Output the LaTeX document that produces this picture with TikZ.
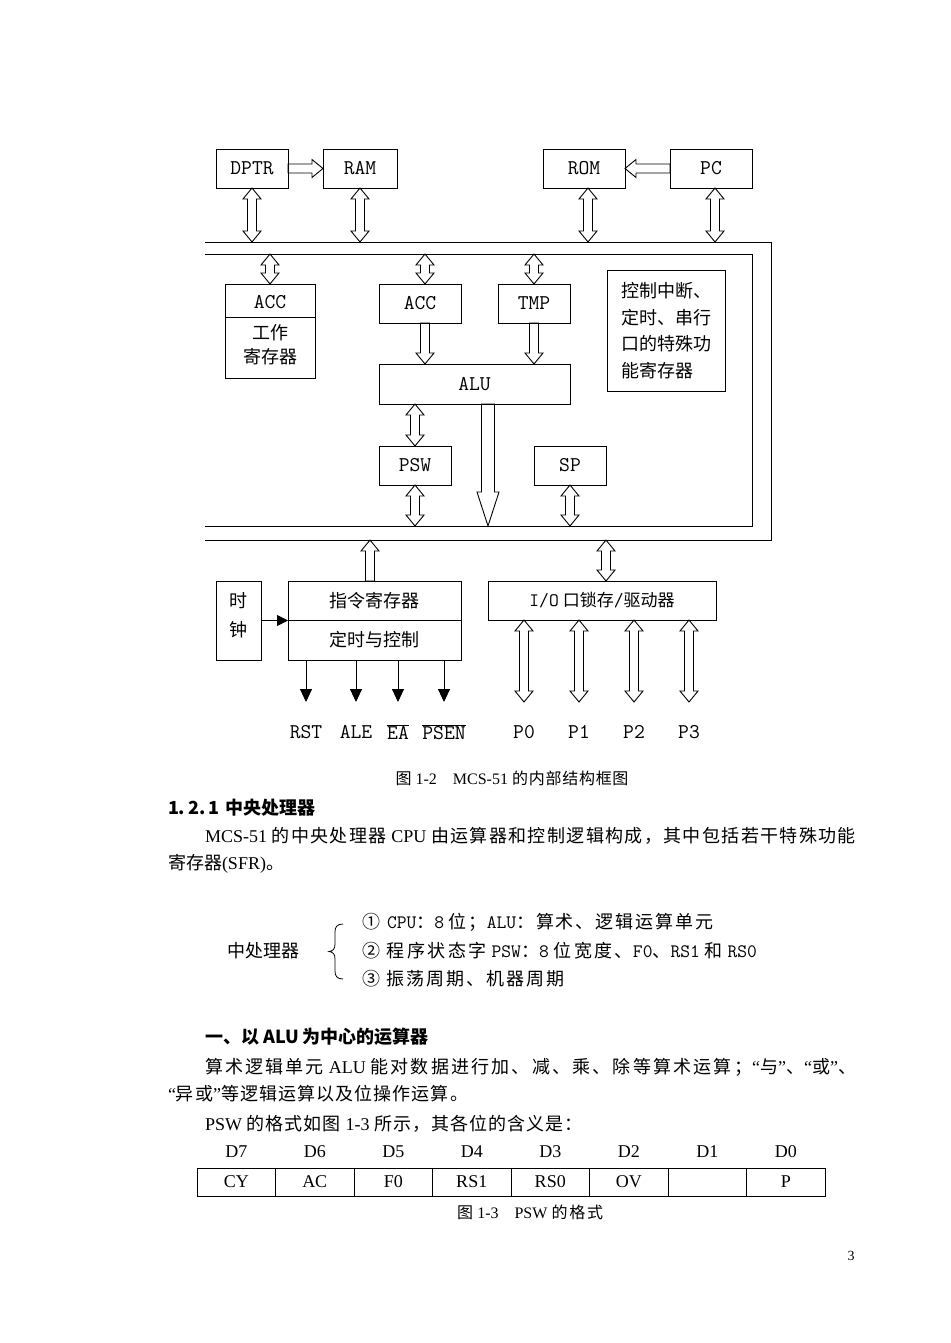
\documentclass[tikz,border=0pt]{standalone}
\usepackage{fontspec}
\setmainfont{Liberation Serif}
\newfontfamily\cjk{Noto Sans CJK SC}
\newcommand\mono{\ttfamily}
\usetikzlibrary{calc,arrows.meta}
\makeatletter
\XeTeXinterchartokenstate=1
\count@="4E00
\loop\ifnum\count@<"A000 \XeTeXcharclass\count@=11 \advance\count@ by 1 \repeat
\count@="3000
\loop\ifnum\count@<"3040 \XeTeXcharclass\count@=11 \advance\count@ by 1 \repeat
\count@="FF00
\loop\ifnum\count@<"FFF0 \XeTeXcharclass\count@=11 \advance\count@ by 1 \repeat
\count@="2460
\loop\ifnum\count@<"2474 \XeTeXcharclass\count@=11 \advance\count@ by 1 \repeat
\makeatother
\XeTeXinterchartoks 11 11 = {\hskip 0pt plus 2pt minus 0.6pt\relax}
\newcommand\zh[1]{{\cjk #1}}
\newcommand\mn[1]{{\mono #1}}
\newcommand\fs[1]{\fontsize{#1}{#1}\selectfont}
\def\arsw{4.5pt}\def\arhw{9pt}\def\arhl{11pt}
\tikzset{
  hsingle/.style={to path={
    ($(\tikztostart)!\arsw!90:(\tikztotarget)$)
    -- ($(\tikztotarget)!\arhl!(\tikztostart)!\arsw!90:(\tikztotarget)$)
    -- ($(\tikztotarget)!\arhl!(\tikztostart)!\arhw!90:(\tikztotarget)$)
    -- (\tikztotarget)
    -- ($(\tikztotarget)!\arhl!(\tikztostart)!\arhw!-90:(\tikztotarget)$)
    -- ($(\tikztotarget)!\arhl!(\tikztostart)!\arsw!-90:(\tikztotarget)$)
    -- ($(\tikztostart)!\arsw!-90:(\tikztotarget)$)
    -- cycle}},
  hbi/.style={to path={
    (\tikztotarget)
    -- ($(\tikztotarget)!\arhl!(\tikztostart)!\arhw!90:(\tikztotarget)$)
    -- ($(\tikztotarget)!\arhl!(\tikztostart)!\arsw!90:(\tikztotarget)$)
    -- ($(\tikztostart)!\arhl!(\tikztotarget)!\arsw!90:(\tikztotarget)$)
    -- ($(\tikztostart)!\arhl!(\tikztotarget)!\arhw!90:(\tikztotarget)$)
    -- (\tikztostart)
    -- ($(\tikztostart)!\arhl!(\tikztotarget)!\arhw!-90:(\tikztotarget)$)
    -- ($(\tikztostart)!\arhl!(\tikztotarget)!\arsw!-90:(\tikztotarget)$)
    -- ($(\tikztotarget)!\arhl!(\tikztostart)!\arsw!-90:(\tikztotarget)$)
    -- ($(\tikztotarget)!\arhl!(\tikztostart)!\arhw!-90:(\tikztotarget)$)
    -- cycle}},
  bigarr/.code={\def\arsw{6.5pt}\def\arhw{11pt}\def\arhl{34pt}},
}
\begin{document}
\begin{tikzpicture}[x=1pt,y=-1pt,
  every node/.style={inner sep=0pt,outer sep=0pt},
  lw/.style={line width=0.9pt},
  blk/.style={draw,line width=0.9pt,font=\mono\fs{21}},
  zhl/.style={font=\cjk\fs{18}},
  lat/.style={font=\mono\fs{21}},
  tl/.style={anchor=west,font={\fs{18}\spaceskip=4.5pt plus 0.3pt minus 0.5pt\relax}},
  capt/.style={font={\fs{16}\spaceskip=4pt plus 0.3pt minus 0.5pt\relax}},
  sig/.style={line width=0.9pt,-{Triangle[width=12pt,length=13pt]}},
  cell/.style={draw,line width=0.9pt,minimum width=78.5pt,minimum height=28pt,font=\fs{18}},
]
\useasboundingbox[fill=white] (0,0) rectangle (950,1343);

% ---------- top boxes
\node[blk,minimum width=72pt,minimum height=39pt] (dptr) at (252,168.5) {DPTR};
\node[blk,minimum width=74pt,minimum height=39pt] (ram) at (360,168.5) {RAM};
\node[blk,minimum width=82pt,minimum height=39pt] (rom) at (584,168.5) {ROM};
\node[blk,minimum width=82pt,minimum height=39pt] (pc) at (711,168.5) {PC};

% ---------- bus frames
\coordinate (otl) at (205,242); \coordinate (otr) at (771,242);
\coordinate (obr) at (771,540); \coordinate (obl) at (205,540);
\coordinate (itl) at (205,254); \coordinate (itr) at (752,254);
\coordinate (ibr) at (752,526); \coordinate (ibl) at (205,526);
\draw[lw] (otl) -- (otr) -- (obr) -- (obl);
\draw[lw] (itl) -- (itr) -- (ibr) -- (ibl);

% ---------- inner blocks
\node[blk,minimum width=90pt,minimum height=94pt] (accw) at (270,331) {};
\draw[lw] ([yshift=-33pt]accw.north west) -- ([yshift=-33pt]accw.north east);
\node[lat] (accwt) at (270,302) {ACC};
\node[zhl] (accw2) at (270,333) {工作};
\node[zhl] (accw3) at (270,357) {寄存器};
\node[blk,minimum width=82pt,minimum height=39pt] (acc) at (420,303.5) {ACC};
\node[blk,minimum width=72pt,minimum height=39pt] (tmp) at (534,303.5) {TMP};
\node[blk,minimum width=191pt,minimum height=40pt] (alu) at (474.5,384) {ALU};
\node[draw,lw,minimum width=118pt,minimum height=121pt,align=left,font=\cjk\fontsize{18}{26.5}\selectfont] (sfr) at (666,330.5) {控制中断、\\定时、串行\\口的特殊功\\能寄存器};
\node[blk,minimum width=72pt,minimum height=39pt] (psw) at (415,465.5) {PSW};
\node[blk,minimum width=72pt,minimum height=39pt] (sp) at (570,465.5) {SP};

% ---------- lower blocks
\node[blk,minimum width=45pt,minimum height=79pt] (clk) at (238.5,620.5) {};
\node[zhl] (clk1) at (238.5,601) {时};
\node[zhl] (clk2) at (238.5,630) {钟};
\node[blk,minimum width=173pt,minimum height=79pt] (ctrl) at (374.5,620.5) {};
\draw[lw] (ctrl.west) -- (ctrl.east);
\node[zhl] (ir) at (374.5,600.5) {指令寄存器};
\node[zhl] (tc) at (374.5,640) {定时与控制};
\node[blk,minimum width=228pt,minimum height=39pt,font=\fs{17}] (io) at (602,600.5) {\mn{\fs{19}I/O}\hspace{4pt}\zh{口锁存}\mn{\fs{19}/}\zh{驱动器}};

\node[lat] (rst) at (306,732) {RST};
\node[lat] (ale) at (356,732) {ALE};
\node[lat] (ea) at (398,732) {$\overline{\hbox{EA}}$};
\node[lat] (psen) at (444,732) {$\overline{\hbox{PSEN}}$};
\node[lat] (p0) at (524,732) {P0};
\node[lat] (p1) at (579,732) {P1};
\node[lat] (p2) at (634,732) {P2};
\node[lat] (p3) at (689,732) {P3};
\coordinate (sigend) at (0,702);

% ---------- connectors
\draw[lw] (dptr.east) to[hsingle] (ram.west);
\draw[lw] (pc.west) to[hsingle] (rom.east);
\coordinate (dptrB) at (dptr.south |- otl);
\draw[lw] (dptr.south) to[hbi] (dptrB);
\coordinate (ramB) at (ram.south |- otl);
\draw[lw] (ram.south) to[hbi] (ramB);
\coordinate (romS) at ([xshift=4pt]rom.south);
\coordinate (romB) at (romS |- otl);
\draw[lw] (romS) to[hbi] (romB);
\coordinate (pcS) at ([xshift=4pt]pc.south);
\coordinate (pcB) at (pcS |- otl);
\draw[lw] (pcS) to[hbi] (pcB);

\coordinate (accwT) at (accw.north |- itl);
\draw[lw] (accwT) to[hbi] (accw.north);
\coordinate (accN) at ([xshift=5pt]acc.north);
\coordinate (accT) at (accN |- itl);
\draw[lw] (accT) to[hbi] (accN);
\coordinate (accS) at ([xshift=5pt]acc.south);
\coordinate (aluA) at (accS |- alu.north);
\draw[lw] (accS) to[hsingle] (aluA);
\coordinate (tmpT) at (tmp.north |- itl);
\draw[lw] (tmpT) to[hbi] (tmp.north);
\coordinate (aluB) at (tmp.south |- alu.north);
\draw[lw] (tmp.south) to[hsingle] (aluB);
\coordinate (aluP) at (psw.north |- alu.south);
\draw[lw] (aluP) to[hbi] (psw.north);
\coordinate (pswB) at (psw.south |- ibl);
\draw[lw] (psw.south) to[hbi] (pswB);
\coordinate (aluC) at ([xshift=13.5pt]alu.south);
\coordinate (bigE) at (aluC |- ibl);
\draw[lw,bigarr] (aluC) to[hsingle] (bigE);
\coordinate (spB) at (sp.south |- ibl);
\draw[lw] (sp.south) to[hbi] (spB);

\coordinate (ctrlN) at ([xshift=-4.5pt]ctrl.north);
\coordinate (ctrlB) at (ctrlN |- obl);
\draw[lw] (ctrlN) to[hsingle] (ctrlB);
\coordinate (ioN) at ([xshift=4pt]io.north);
\coordinate (ioB) at (ioN |- obl);
\draw[lw] (ioB) to[hbi] (ioN);
\draw[lw,-{Triangle[width=11pt,length=11pt]}] (clk.east) -- (clk.east -| ctrl.west);

\foreach \p in {p0,p1,p2,p3} {
  \coordinate (\p-s) at (\p |- io.south);
  \coordinate (\p-e) at (\p |- sigend);
  \draw[lw] (\p-s) to[hbi] (\p-e);
}
\foreach \s in {rst,ale,ea,psen} {
  \draw[sig] (\s |- ctrl.south) -- (\s |- sigend);
}

% ---------- text
\node[capt] (cap1) at (512,778) {\makebox[233pt][s]{\zh{图} 1-2\zh{　}MCS-51 \zh{的内部结构框图}}};
\node[anchor=west,font=\cjk\bfseries\fs{18}] (h1) at (168,808) {1.\hspace{3pt}2.\hspace{3pt}1\hspace{6pt}中央处理器};
\node[tl] (l1) at (205,836) {\makebox[651pt][s]{MCS-51 \zh{的中央处理器} CPU \zh{由运算器和控制逻辑构成，其中包括若干特殊功能}}};
\node[tl] (l2) at (168,864) {\zh{寄存器}(SFR)\zh{。}};

\node[tl,font=\cjk\fs{18}] (cpu) at (227,951) {中处理器};
\draw[line width=0.8pt] (343,924) .. controls (337,924) and (335,927) .. (335,932) -- (335,944) .. controls (335,949) and (333,951) .. (329,951.5) .. controls (333,952) and (335,954) .. (335,959) -- (335,971) .. controls (335,976) and (337,979) .. (343,979);
\node[tl] (i1) at (362,922) {\makebox[351pt][s]{\zh{①}\hspace{7pt}\mn{\fs{19}CPU}\zh{：}\mn{\fs{19}8}\zh{ 位；}\mn{\fs{19}ALU}\zh{：算术、逻辑运算单元}}};
\node[tl] (i2) at (362,951) {\makebox[395pt][s]{\zh{②}\hspace{7pt}\zh{程序状态字 }\mn{\fs{19}PSW}\zh{：}\mn{\fs{19}8}\zh{ 位宽度、}\mn{\fs{19}F0}\zh{、}\mn{\fs{19}RS1}\zh{ 和 }\mn{\fs{19}RS0}}};
\node[tl] (i3) at (362,979) {\makebox[202pt][s]{\zh{③}\hspace{7pt}\zh{振荡周期、机器周期}}};

\node[anchor=west,font=\cjk\bfseries\fs{18}] (h2) at (205,1037) {一、以 ALU 为中心的运算器};
\node[tl] (l3) at (205,1067) {\makebox[651pt][s]{\zh{算术逻辑单元} ALU \zh{能对数据进行加、减、乘、除等算术运算；}“\zh{与}”\zh{、}“\zh{或}”\zh{、}}};
\node[tl] (l4) at (168,1094) {\makebox[300pt][s]{“\zh{异或}”\zh{等逻辑运算以及位操作运算。}}};
\node[tl] (l5) at (205,1124) {\makebox[378pt][s]{PSW \zh{的格式如图} 1-3 \zh{所示，其各位的含义是：}}};

\foreach \d [count=\i] in {7,6,5,4,3,2,1,0} {
  \node[font=\fs{18}] (d\i) at ({197+78.5*(\i-0.5)},1152) {D\d};
}
\foreach \t [count=\i] in {CY,AC,F0,RS1,RS0,OV,{},P} {
  \node[cell] (cell\i) at ({197+78.5*(\i-0.5)},1182) {\t};
}
\node[capt] (cap2) at (530,1212) {\makebox[146pt][s]{\zh{图} 1-3\zh{　}PSW \zh{的格式}}};
\node[font=\fs{14}] (pg) at (851,1256) {3};
\end{tikzpicture}
\end{document}
